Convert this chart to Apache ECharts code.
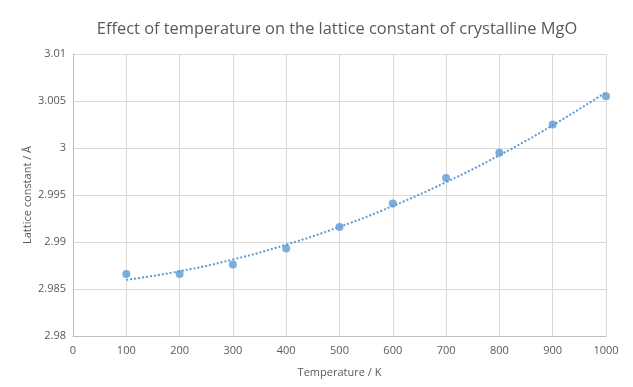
<!DOCTYPE html>
<html><head><meta charset="utf-8">
<script src="https://cdn.jsdelivr.net/npm/echarts@6/dist/echarts.min.js"></script>
<style>html,body{margin:0;padding:0;background:#fff}#c{width:633px;height:387px}</style>
</head><body><div id="c"></div>
<script>
const temperatures = [100, 200, 300, 400, 500, 600, 700, 800, 900, 1000];
const latticeConstant = [2.9866, 2.9866, 2.9876, 2.9893, 2.9916, 2.9941, 2.9968, 2.9995, 3.0025, 3.0055];
const trendValues = [2.98597, 2.98689, 2.98814, 2.98972, 2.99161, 2.99383, 2.99637, 2.99923, 3.00242, 3.00593];
const titleText = 'Effect of temperature on the lattice constant of crystalline MgO';
const xName = 'Temperature / K';
const yName = 'Lattice constant / Å';

const font = 'Open Sans, sans-serif';
const chart = echarts.init(document.getElementById('c'), null, {renderer: 'canvas'});
chart.setOption({
  animation: false,
  backgroundColor: '#fff',
  title: {
    text: titleText, left: 332, top: 16, textAlign: 'center',
    textStyle: {fontFamily: font, fontSize: 16.4, fontWeight: 'normal', color: '#595959'}
  },
  grid: {left: 73, right: 27, top: 54, bottom: 51},
  xAxis: {
    type: 'value', min: 0, max: 1000, interval: 100,
    name: xName, nameLocation: 'middle', nameGap: 31, nameMoveOverlap: false,
    nameTextStyle: {fontFamily: font, fontSize: 11, color: '#595959'},
    axisLine: {show: true, lineStyle: {color: '#BFBFBF'}},
    axisTick: {show: false},
    axisLabel: {fontFamily: font, fontSize: 11, color: '#595959', margin: 9,
      formatter: v => String(v)},
    splitLine: {show: true, lineStyle: {color: '#D9D9D9'}}
  },
  yAxis: {
    type: 'value', min: 2.98, max: 3.01, interval: 0.005,
    name: yName, nameLocation: 'middle', nameGap: 40, nameMoveOverlap: false,
    nameTextStyle: {fontFamily: font, fontSize: 11, color: '#595959'},
    axisLine: {show: true, lineStyle: {color: '#BFBFBF'}},
    axisTick: {show: false},
    axisLabel: {fontFamily: font, fontSize: 11, color: '#595959', margin: 7,
      formatter: v => String(parseFloat(v.toFixed(3)))},
    splitLine: {show: true, lineStyle: {color: '#D9D9D9'}}
  },
  series: [
    {
      type: 'line', data: temperatures.map((t, i) => [t, trendValues[i]]),
      smooth: true, showSymbol: false, symbol: 'none',
      lineStyle: {color: '#5B9BD5', width: 2, type: [2, 2]}, z: 2
    },
    {
      type: 'scatter', data: temperatures.map((t, i) => [t, latticeConstant[i]]),
      symbol: 'circle', symbolSize: 8,
      itemStyle: {color: '#5B9BD5'}, z: 3
    }
  ]
});
</script></body></html>
